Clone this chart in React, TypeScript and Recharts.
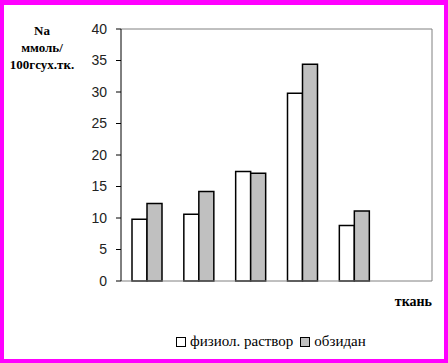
import { BarChart, Bar, XAxis, YAxis, Legend, ReferenceLine } from "recharts";

const categories = ["1", "2", "3", "4", "5", "6"];
const fiziol = [9.8, 10.6, 17.4, 29.8, 8.8, null];
const obzidan = [12.3, 14.2, 17.1, 34.4, 11.1, null];
const yTicks = [0, 5, 10, 15, 20, 25, 30, 35, 40];
const seriesOrder = ["fiziol", "obzidan"];

const data = categories.map((c, i) => ({
  cat: c,
  fiziol: fiziol[i],
  obzidan: obzidan[i],
}));

const serif = "'Liberation Serif', 'DejaVu Serif', 'Times New Roman', serif";
const sans = "'Liberation Sans', Arial, sans-serif";

function LegendBox({ payload }: any) {
  const items = [...(payload || [])].sort(
    (a: any, b: any) => seriesOrder.indexOf(a.dataKey) - seriesOrder.indexOf(b.dataKey)
  );
  return (
    <div style={{ display: "flex", alignItems: "center", fontFamily: serif, fontSize: 15, color: "#000" }}>
      {items.map((p: any, i: number) => (
        <span key={p.value} style={{ display: "flex", alignItems: "center", marginRight: i === 0 ? 7 : 0 }}>
          <span
            style={{
              width: 8,
              height: 8,
              border: "1px solid #000",
              background: p.color,
              marginRight: 4,
              display: "inline-block",
            }}
          />
          {p.value}
        </span>
      ))}
    </div>
  );
}

export default function App() {
  return (
    <div
      style={{
        position: "fixed",
        left: 0,
        top: 0,
        width: 448,
        height: 363,
        background: "#fff",
        overflow: "hidden",
      }}
    >
      <BarChart
        width={448}
        height={363}
        data={data}
        margin={{ top: 29, right: 0, bottom: 34, left: 0 }}
        barSize={15}
        barGap={0}
      >
        <XAxis
          dataKey="cat"
          tick={false}
          tickLine={false}
          axisLine={{ stroke: "#808080" }}
          height={30}
        />
        <YAxis
          domain={[0, 40]}
          ticks={yTicks}
          width={121}
          tickSize={5}
          tickMargin={9}
          interval={0}
          tick={{ fontSize: 14, fill: "#222", fontFamily: sans }}
          axisLine={{ stroke: "#000" }}
          tickLine={{ stroke: "#000" }}
        />
        <YAxis
          yAxisId="r"
          orientation="right"
          domain={[0, 40]}
          width={16}
          tick={false}
          tickLine={false}
          axisLine={{ stroke: "#808080" }}
        />
        <ReferenceLine y={40} stroke="#808080" ifOverflow="extendDomain" />
        <Bar dataKey="fiziol" name="физиол. раствор" fill="#ffffff" stroke="#000" strokeWidth={1.5} isAnimationActive={false} />
        <Bar dataKey="obzidan" name="обзидан" fill="#c0c0c0" stroke="#000" strokeWidth={1.5} isAnimationActive={false} />
        <Legend
          content={<LegendBox />}
          wrapperStyle={{ position: "absolute", left: 176, top: 333, width: 240, height: 18 }}
        />
      </BarChart>
      <div
        style={{
          position: "absolute",
          left: 0,
          top: 22,
          width: 84,
          textAlign: "center",
          fontFamily: serif,
          fontWeight: "bold",
          fontSize: 13,
          lineHeight: "17px",
          color: "#000",
        }}
      >
        Na
        <br />
        ммоль/
        <br />
        100гсух.тк.
      </div>
      <div
        style={{
          position: "absolute",
          right: 16,
          top: 294,
          fontFamily: serif,
          fontWeight: "bold",
          fontSize: 14,
          color: "#000",
        }}
      >
        ткань
      </div>
      <div
        style={{
          position: "absolute",
          left: 0,
          top: 0,
          width: 448,
          height: 363,
          boxSizing: "border-box",
          borderStyle: "solid",
          borderColor: "#ff00ff",
          borderWidth: "5px 4px 4px 4px",
          pointerEvents: "none",
        }}
      />
    </div>
  );
}
